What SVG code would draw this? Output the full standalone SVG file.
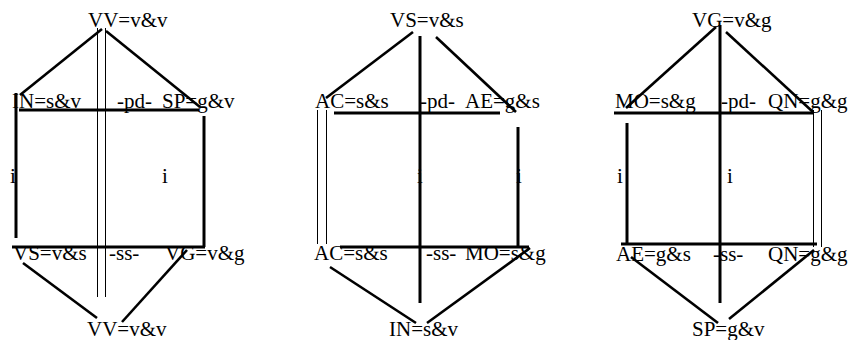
<svg xmlns="http://www.w3.org/2000/svg" width="850" height="340" viewBox="0 0 850 340">
<style>
text{font-family:"Liberation Serif","Times New Roman",serif;font-size:21px;fill:#000}
.k{stroke:#000;stroke-width:3;fill:none}
.d{stroke:#000;stroke-width:2.6;fill:none}
.t{stroke:#000;stroke-width:1;fill:none}
</style>
<rect width="850" height="340" fill="#fff"/>
<g id="connectors">
<!-- panel 1 -->
<line class="d" x1="20" y1="95" x2="102" y2="29"/>
<line class="d" x1="106" y1="31" x2="200" y2="107"/>
<line class="t" x1="97.5" y1="28" x2="97.5" y2="297"/>
<line class="t" x1="105.5" y1="28" x2="105.5" y2="297"/>
<line class="k" x1="19" y1="110" x2="199" y2="110"/>
<line class="k" x1="16" y1="93" x2="16" y2="238"/>
<line class="k" x1="204" y1="116" x2="204" y2="247"/>
<line class="k" x1="12" y1="247" x2="205" y2="247"/>
<line class="d" x1="23" y1="263" x2="97" y2="318"/>
<line class="d" x1="187" y1="250" x2="122" y2="322"/>
<!-- panel 2 -->
<line class="d" x1="326" y1="98" x2="413" y2="32"/>
<line class="d" x1="436" y1="37" x2="516" y2="112"/>
<line class="k" x1="420" y1="36" x2="420" y2="303"/>
<line class="k" x1="334" y1="113" x2="500" y2="113"/>
<line class="k" x1="518" y1="127" x2="518" y2="247"/>
<line class="t" x1="317.5" y1="110" x2="317.5" y2="244"/>
<line class="t" x1="326.5" y1="110" x2="326.5" y2="244"/>
<line class="k" x1="340" y1="247" x2="529" y2="247"/>
<line class="d" x1="330" y1="267" x2="416" y2="323"/>
<line class="d" x1="530" y1="248" x2="427" y2="323"/>
<!-- panel 3 -->
<line class="d" x1="626" y1="108" x2="716" y2="27"/>
<line class="d" x1="726" y1="32" x2="813" y2="112"/>
<line class="k" x1="720" y1="25" x2="720" y2="303"/>
<line class="k" x1="614" y1="113" x2="813" y2="113"/>
<line class="k" x1="627" y1="123" x2="627" y2="244"/>
<line class="t" x1="813.5" y1="110" x2="813.5" y2="247"/>
<line class="t" x1="821.5" y1="110" x2="821.5" y2="247"/>
<line class="k" x1="621" y1="244" x2="817" y2="244"/>
<line class="d" x1="631" y1="257" x2="718" y2="323"/>
<line class="d" x1="814" y1="250" x2="729" y2="319"/>
</g>
<!-- panel 1 nodes -->
<g id="p1-top"><text x="88" y="27">VV=v&amp;v</text></g>
<g id="p1-IN"><text x="12" y="108">IN=s&amp;v</text></g>
<g id="p1-pd"><text x="117" y="108">-pd-</text></g>
<g id="p1-SP"><text x="162" y="108">SP=g&amp;v</text></g>
<g id="p1-i1"><text x="10" y="183">i</text></g>
<g id="p1-i2"><text x="162" y="183">i</text></g>
<g id="p1-VS"><text x="13" y="260">VS=v&amp;s</text></g>
<g id="p1-ss"><text x="109" y="260">-ss-</text></g>
<g id="p1-VG"><text x="165" y="260">VG=v&amp;g</text></g>
<g id="p1-bottom"><text x="87" y="336">VV=v&amp;v</text></g>
<!-- panel 2 nodes -->
<g id="p2-top"><text x="390" y="27">VS=v&amp;s</text></g>
<g id="p2-AC"><text x="315" y="108">AC=s&amp;s</text></g>
<g id="p2-pd"><text x="420" y="108">-pd-</text></g>
<g id="p2-AE"><text x="465" y="108">AE=g&amp;s</text></g>
<g id="p2-i1"><text x="417" y="183">i</text></g>
<g id="p2-i2"><text x="516" y="183">i</text></g>
<g id="p2-AC2"><text x="314" y="260">AC=s&amp;s</text></g>
<g id="p2-ss"><text x="426" y="260">-ss-</text></g>
<g id="p2-MO"><text x="465" y="260">MO=s&amp;g</text></g>
<g id="p2-bottom"><text x="389" y="336">IN=s&amp;v</text></g>
<!-- panel 3 nodes -->
<g id="p3-top"><text x="692" y="27">VG=v&amp;g</text></g>
<g id="p3-MO"><text x="615" y="108">MO=s&amp;g</text></g>
<g id="p3-pd"><text x="721" y="108">-pd-</text></g>
<g id="p3-QN"><text x="768" y="108">QN=g&amp;g</text></g>
<g id="p3-i1"><text x="617" y="183">i</text></g>
<g id="p3-i2"><text x="727" y="183">i</text></g>
<g id="p3-AE"><text x="616" y="261">AE=g&amp;s</text></g>
<g id="p3-ss"><text x="713" y="261">-ss-</text></g>
<g id="p3-QN2"><text x="768" y="261">QN=g&amp;g</text></g>
<g id="p3-bottom"><text x="692" y="336">SP=g&amp;v</text></g>
</svg>
